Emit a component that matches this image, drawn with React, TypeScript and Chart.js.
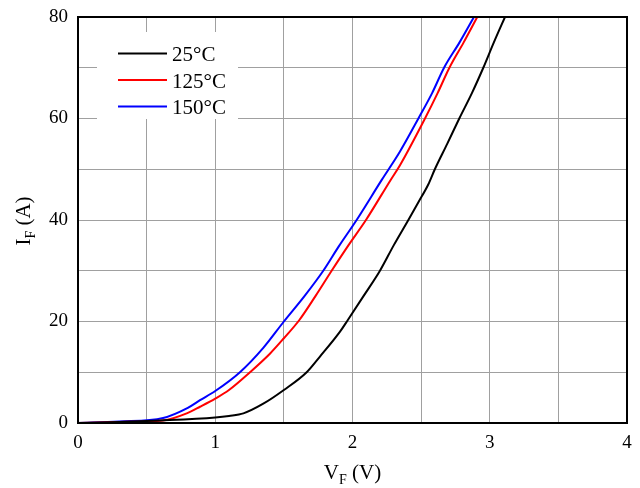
import React, { useEffect, useRef } from "react";
import { Chart, registerables } from "chart.js";

Chart.register(...registerables);

const seriesLabels = ["25°C", "125°C", "150°C"];
const seriesColors = ["#000000", "#ff0000", "#0000ff"];

const v25 = [0, 0.3, 0.6, 1.0, 1.1, 1.205, 1.35, 1.5, 1.666, 1.76, 1.909, 1.966, 2.08, 2.2, 2.3, 2.407, 2.48, 2.552, 2.6, 2.69, 2.778, 2.87, 2.953, 3.03, 3.111];
const i25 = [0, 0.2, 0.5, 1.1, 1.4, 1.9, 3.8, 6.5, 10, 13, 18, 20.3, 25, 30, 35, 40, 43.5, 47, 50, 55, 60, 65, 70, 75, 80];

const v125 = [0, 0.3, 0.62, 0.8, 0.889, 1.0, 1.1, 1.253, 1.4, 1.5, 1.613, 1.73, 1.848, 1.97, 2.098, 2.278, 2.346, 2.528, 2.62, 2.706, 2.81, 2.909];
const i125 = [0, 0.2, 0.5, 2.0, 3.2, 4.8, 6.5, 10, 13.7, 16.7, 20.3, 25, 30, 35, 40, 47.9, 50.8, 60, 65, 70, 75, 80];

const v150 = [0, 0.3, 0.62, 0.8, 0.889, 1.0, 1.18, 1.35, 1.5, 1.65, 1.787, 1.9, 2.03, 2.213, 2.346, 2.48, 2.58, 2.667, 2.78, 2.885];
const i150 = [0, 0.3, 1.0, 3.0, 4.5, 6.3, 10, 14.8, 20, 25, 30, 34.8, 40, 47.9, 53.5, 60, 65, 70, 75, 80];

const xMin = 0, xMax = 4, xStep = 0.5;
const yMin = 0, yMax = 80, yStep = 10;

const FONT = "'Liberation Serif', 'Times New Roman', serif";

function pts(vs: number[], is: number[]) {
  return vs.map((v, k) => ({ x: v, y: is[k] }));
}

const framePlugin = {
  id: "frameAndTitles",
  beforeDatasetsDraw(chart: any) {
    const { ctx, chartArea: a } = chart;
    ctx.save();
    const bx = a.left + 19, by = a.top + 15, bw = 141, bh = 87;
    ctx.fillStyle = "#ffffff";
    ctx.fillRect(bx, by, bw, bh);
    const ds = chart.data.datasets;
    ctx.font = `21px ${FONT}`;
    ctx.textBaseline = "alphabetic";
    ctx.textAlign = "left";
    for (let k = 0; k < ds.length; k++) {
      const ly = by + 21.5 + k * 26.5;
      ctx.strokeStyle = ds[k].borderColor;
      ctx.lineWidth = 2;
      ctx.beginPath();
      ctx.moveTo(bx + 21, ly);
      ctx.lineTo(bx + 70, ly);
      ctx.stroke();
      ctx.fillStyle = "#000";
      ctx.fillText(ds[k].label, bx + 75, ly + 7.5);
    }
    ctx.restore();
  },
  afterDatasetsDraw(chart: any) {
    const { ctx, chartArea: a } = chart;
    ctx.save();
    ctx.strokeStyle = "#000";
    ctx.lineWidth = 2;
    ctx.strokeRect(a.left, a.top, a.right - a.left, a.bottom - a.top);

    const drawSub = (main: string, sub: string, rest: string, cx: number, cy: number, rot: number) => {
      ctx.save();
      ctx.translate(cx, cy);
      ctx.rotate(rot);
      ctx.fillStyle = "#000";
      ctx.textBaseline = "alphabetic";
      ctx.textAlign = "left";
      ctx.font = `21px ${FONT}`;
      const w1 = ctx.measureText(main).width;
      const w3 = ctx.measureText(rest).width;
      ctx.font = `14px ${FONT}`;
      const w2 = ctx.measureText(sub).width;
      const total = w1 + w2 + w3;
      let x = -total / 2;
      ctx.font = `21px ${FONT}`;
      ctx.fillText(main, x, 0);
      x += w1;
      ctx.font = `14px ${FONT}`;
      ctx.fillText(sub, x, 5);
      x += w2;
      ctx.font = `21px ${FONT}`;
      ctx.fillText(rest, x, 0);
      ctx.restore();
    };
    drawSub("V", "F", " (V)", (a.left + a.right) / 2, 479, 0);
    drawSub("I", "F", " (A)", 30, (a.top + a.bottom) / 2 + 1, -Math.PI / 2);
    ctx.restore();
  },
};

export default function App() {
  const ref = useRef<HTMLCanvasElement | null>(null);
  useEffect(() => {
    document.body.style.margin = "0";
    const canvas = ref.current;
    if (!canvas) return;
    const chart = new Chart(canvas, {
      type: "scatter",
      data: {
        datasets: [
          { label: seriesLabels[0], data: pts(v25, i25), borderColor: seriesColors[0], backgroundColor: seriesColors[0] },
          { label: seriesLabels[1], data: pts(v125, i125), borderColor: seriesColors[1], backgroundColor: seriesColors[1] },
          { label: seriesLabels[2], data: pts(v150, i150), borderColor: seriesColors[2], backgroundColor: seriesColors[2] },
        ].map((d) => ({ ...d, showLine: true, pointRadius: 0, borderWidth: 2, cubicInterpolationMode: "monotone" })),
      },
      options: {
        responsive: false,
        animation: false,
        events: [],
        layout: { padding: { left: 0, top: 17, right: 13, bottom: 0 } },
        plugins: { legend: { display: false }, tooltip: { enabled: false } },
        scales: {
          x: {
            type: "linear",
            min: xMin,
            max: xMax,
            afterFit: (s: any) => { s.height = 65; s.paddingLeft = 0; s.paddingRight = 0; },
            ticks: {
              stepSize: xStep,
              padding: 9,
              color: "#000",
              font: { family: FONT, size: 19 },
              maxRotation: 0,
              autoSkip: false,
              callback: (v: any) => (Number.isInteger(v) ? String(v) : ""),
            },
            grid: { color: "#a0a0a0", lineWidth: 1, drawTicks: false },
            border: { display: false },
          },
          y: {
            type: "linear",
            min: yMin,
            max: yMax,
            afterFit: (s: any) => { s.width = 78; s.paddingTop = 0; s.paddingBottom = 0; },
            ticks: {
              stepSize: yStep,
              padding: 10,
              color: "#000",
              font: { family: FONT, size: 19 },
              autoSkip: false,
              callback: (v: any) => (v % 20 === 0 ? String(v) : ""),
            },
            grid: { color: "#a0a0a0", lineWidth: 1, drawTicks: false },
            border: { display: false },
          },
        },
      },
      plugins: [framePlugin],
    } as any);
    return () => chart.destroy();
  }, []);
  return (
    <div style={{ width: 640, height: 488 }}>
      <canvas ref={ref} width={640} height={488} />
    </div>
  );
}
